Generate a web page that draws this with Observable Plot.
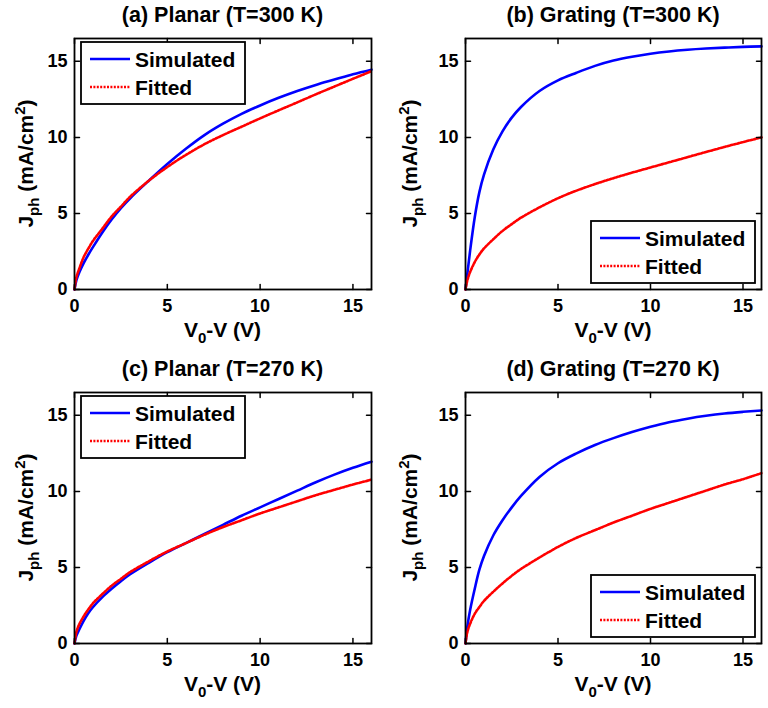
<!DOCTYPE html>
<html><head><meta charset="utf-8">
<script src="https://cdn.jsdelivr.net/npm/d3@7"></script>
<script src="https://cdn.jsdelivr.net/npm/@observablehq/plot@0.6"></script>
<style>
html,body{margin:0;padding:0;background:#fff;}
#wrap{position:relative;width:768px;height:708px;}
.panel{position:absolute;width:384px;height:354px;}
</style></head><body><div id="wrap"></div>
<script>
// ---- data ----
const voltage = [0,0.1,0.25,0.5,0.75,1,1.5,2,2.5,3,4,5,6,7,8,9,10,11,12,13,14,15,16];
const simA = [0,0.6,1.1,1.75,2.3,2.8,3.75,4.6,5.35,6.0,7.15,8.25,9.25,10.15,10.9,11.55,12.1,12.6,13.05,13.45,13.8,14.15,14.45];
const fitA = [0,0.8,1.35,2.15,2.7,3.2,4.0,4.8,5.45,6.1,7.15,8.05,8.85,9.55,10.15,10.7,11.25,11.78,12.3,12.83,13.34,13.85,14.35];
const simB = [0,1.05,2.55,4.75,6.4,7.55,9.2,10.4,11.3,12.0,13.05,13.75,14.25,14.7,15.05,15.3,15.5,15.65,15.76,15.84,15.9,15.95,15.98];
const fitB = [0,0.6,1.15,1.8,2.3,2.7,3.3,3.85,4.3,4.72,5.4,6.0,6.5,6.93,7.32,7.68,8.02,8.36,8.7,9.04,9.37,9.69,10.0];
const simC = [0,0.5,0.9,1.5,2.0,2.4,3.05,3.6,4.1,4.55,5.3,6.0,6.6,7.2,7.8,8.4,8.95,9.5,10.05,10.6,11.1,11.55,11.95];
const fitC = [0,0.75,1.25,1.8,2.25,2.65,3.25,3.8,4.25,4.7,5.4,6.05,6.6,7.15,7.65,8.1,8.55,8.95,9.35,9.75,10.1,10.45,10.77];
const simD = [0,1.1,2.2,3.6,4.85,5.75,7.1,8.1,8.95,9.7,10.95,11.85,12.5,13.05,13.5,13.9,14.25,14.55,14.78,14.97,15.12,15.23,15.32];
const fitD = [0,0.75,1.3,1.95,2.4,2.8,3.4,3.95,4.45,4.9,5.65,6.35,6.95,7.45,7.95,8.4,8.85,9.25,9.65,10.05,10.45,10.8,11.2];

const titles = ["(a) Planar (T=300 K)","(b) Grating (T=300 K)","(c) Planar (T=270 K)","(d) Grating (T=270 K)"];
const seriesNames = ["Simulated","Fitted"];
const xTicks = [0,5,10,15];
const yTicks = [0,5,10,15];
const xDomain = [0,16];
const yDomain = [0,16.5];

const FONT = "'Liberation Sans', Arial, Helvetica, sans-serif";
const BLUE = "#0000ff", RED = "#ff0000";
const DASH = "2,1.4";

const panels = [
  {sim: simA, fit: fitA, title: titles[0], left: 0,   top: 0,   ml: 74, mr: 13, legend: "tl"},
  {sim: simB, fit: fitB, title: titles[1], left: 384, top: 0,   ml: 81, mr: 7,  legend: "br"},
  {sim: simC, fit: fitC, title: titles[2], left: 0,   top: 354, ml: 74, mr: 13, legend: "tl"},
  {sim: simD, fit: fitD, title: titles[3], left: 384, top: 354, ml: 81, mr: 7,  legend: "br"}
];

const W = 384, H = 354, MT = 38, MB = 65;
const tickShape = {draw(ctx, l) { ctx.moveTo(0, 0); ctx.lineTo(0, -l); }};
const tickOpts = {anchor: "start", length: 5, shape: tickShape, stroke: "black", strokeWidth: 1.5};

for (const p of panels) {
  const svg = Plot.plot({
    width: W, height: H,
    marginLeft: p.ml, marginRight: p.mr, marginTop: MT, marginBottom: MB,
    x: {domain: xDomain},
    y: {domain: yDomain},
    style: {fontFamily: FONT, fontWeight: "bold", fontSize: "18px", color: "black", background: "white", overflow: "visible"},
    marks: [
      Plot.line(p.sim, {x: voltage, y: p.sim, stroke: BLUE, strokeWidth: 2.6, curve: "catmull-rom"}),
      Plot.line(p.fit, {x: voltage, y: p.fit, stroke: RED, strokeWidth: 2.6, strokeDasharray: DASH, curve: "catmull-rom"}),
      Plot.axisX(xTicks, {anchor: "bottom", tickSize: 0, tickPadding: 10, label: null, fontSize: 18}),
      Plot.axisY(yTicks, {anchor: "left", tickSize: 0, tickPadding: 7, label: null, fontSize: 18}),
      Plot.vector(xTicks, {x: d => d, frameAnchor: "bottom", rotate: 0, ...tickOpts}),
      Plot.vector(xTicks, {x: d => d, frameAnchor: "top", rotate: 180, ...tickOpts}),
      Plot.vector(yTicks, {y: d => d, frameAnchor: "left", rotate: 90, ...tickOpts}),
      Plot.vector(yTicks, {y: d => d, frameAnchor: "right", rotate: -90, ...tickOpts}),
      Plot.frame({stroke: "black", strokeWidth: 1.8})
    ]
  });
  const div = document.createElement("div");
  div.className = "panel";
  div.style.left = p.left + "px";
  div.style.top = p.top + "px";
  div.appendChild(svg);
  document.getElementById("wrap").appendChild(div);

  const s = d3.select(svg);
  const fx0 = p.ml, fx1 = W - p.mr, fy0 = MT, fy1 = H - MB;
  const cx = (fx0 + fx1) / 2, cy = (fy0 + fy1) / 2;

  // title
  s.append("text").attr("x", cx).attr("y", 22).attr("text-anchor", "middle")
    .attr("font-size", 21.5).attr("font-weight", "bold").attr("font-family", FONT).text(p.title);

  // x label: V0-V (V)
  const xl = s.append("text").attr("x", cx).attr("y", 337).attr("text-anchor", "middle")
    .attr("font-size", 21).attr("font-weight", "bold").attr("font-family", FONT);
  xl.append("tspan").text("V");
  xl.append("tspan").attr("font-size", 15).attr("dy", 6).text("0");
  xl.append("tspan").attr("dy", -6).text("-V (V)");

  // y label: Jph (mA/cm2)
  const yl = s.append("text").attr("transform", `translate(33,${cy}) rotate(-90)`).attr("text-anchor", "middle")
    .attr("font-size", 21).attr("font-weight", "bold").attr("font-family", FONT);
  yl.append("tspan").text("J");
  yl.append("tspan").attr("font-size", 15).attr("dy", 6).text("ph");
  yl.append("tspan").attr("dy", -6).text(" (mA/cm");
  yl.append("tspan").attr("font-size", 15).attr("dy", -8).text("2");
  yl.append("tspan").attr("dy", 8).text(")");

  // legend
  const lw = 164, lh = 62;
  const lx = p.legend === "tl" ? fx0 + 7 : fx1 - 6 - lw;
  const ly = p.legend === "tl" ? fy0 + 4 : fy1 - 6 - lh;
  const g = s.append("g").attr("transform", `translate(${lx},${ly})`);
  g.append("rect").attr("width", lw).attr("height", lh).attr("fill", "white").attr("stroke", "black").attr("stroke-width", 1.8);
  const rows = [{name: seriesNames[0], color: BLUE, dash: null, y: 17}, {name: seriesNames[1], color: RED, dash: DASH, y: 45}];
  for (const r of rows) {
    g.append("line").attr("x1", 9).attr("x2", 49).attr("y1", r.y).attr("y2", r.y)
      .attr("stroke", r.color).attr("stroke-width", 2.6).attr("stroke-dasharray", r.dash);
    g.append("text").attr("x", 54).attr("y", r.y + 7.5).attr("text-anchor", "start").attr("font-size", 21).attr("font-weight", "bold")
      .attr("font-family", FONT).text(r.name);
  }
}
</script></body></html>
